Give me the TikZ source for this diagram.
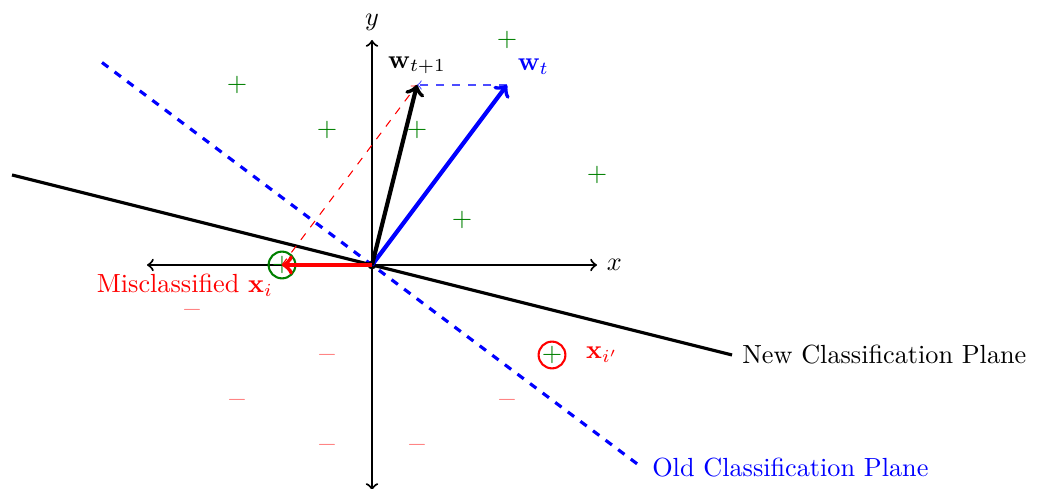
\documentclass[tikz,border=0pt]{standalone}
\usepackage{amsmath}
\usepackage{tikz}
\usetikzlibrary{positioning}

\begin{document}
\begin{tikzpicture}[
      x=0.603cm, y=0.603cm,
      ax/.style={<->, thick},
      vec/.style={->, ultra thick},
      plane/.style={very thick},
      possample/.style={text=green!50!black, inner sep=0pt},
      negsample/.style={text=red!50, inner sep=0pt},
      ring/.style={circle, draw, thick, inner sep=0pt, minimum size=0.33cm, text=green!50!black},
      guide/.style={->, dashed, thin}]
    \useasboundingbox (-8.267,-4.956) rectangle (14.8,5.889);
    % axes
    \coordinate (xl) at (-5,0);
    \coordinate (xr) at (5,0);
    \coordinate (yb) at (0,-5);
    \coordinate (yt) at (0,5);
    \draw[ax] (xl) -- (xr) node[right] (xlab) {$x$};
    \draw[ax] (yb) -- (yt) node[above] (ylab) {$y$};
    % samples
    \node[possample] (p1) at (-3,4) {$+$};
    \node[possample] (p2) at (-1,3) {$+$};
    \node[possample] (p3) at (1,3)  {$+$};
    \node[possample] (p4) at (2,1)  {$+$};
    \node[possample] (p5) at (3,5)  {$+$};
    \node[possample] (p6) at (5,2)  {$+$};
    \node[negsample] (m1) at (-4,-1) {$-$};
    \node[negsample] (m2) at (-1,-2) {$-$};
    \node[negsample] (m3) at (-3,-3) {$-$};
    \node[negsample] (m4) at (-1,-4) {$-$};
    \node[negsample] (m5) at (1,-4)  {$-$};
    \node[negsample] (m6) at (3,-3)  {$-$};
    % planes
    \coordinate (oa) at (-6,4.5);
    \coordinate (ob) at (6,-4.5);
    \coordinate (na) at (-8,2);
    \coordinate (nb) at (8,-2);
    \draw[plane, blue, dashed] (oa) -- (ob) node[right] (olab) {Old Classification Plane};
    \draw[plane] (na) -- (nb) node[right] (nlab) {New Classification Plane};
    % vectors
    \node[circle, fill, inner sep=1.2pt] (o) at (0,0) {};
    \coordinate (wt) at (3,4);
    \coordinate (wn) at (1,4);
    \node[ring, draw=green!50!black] (xi) at (-2,0) {$+$};
    \node[ring, draw=red] (xj) at (4,-2) {$+$};
    \node[red, right=4pt of xj] (xjlab) {$\mathbf{x}_{i'}$};
    \draw[guide, blue!70] (wt) -- (wn);
    \draw[guide, red] (xi.center) -- (wn);
    \draw[vec, blue] (o.center) -- (wt) node[above right] (wtlab) {$\mathbf{w}_t$};
    \draw[vec] (o.center) -- (wn) node[above] (wnlab) {$\mathbf{w}_{t+1}$};
    \draw[vec, red] (o.center) -- (xi.center);
    \node[red, below left=0pt and 0pt of xi.center] (milab) {Misclassified $\mathbf{x}_i$};
  \end{tikzpicture}
\end{document}
